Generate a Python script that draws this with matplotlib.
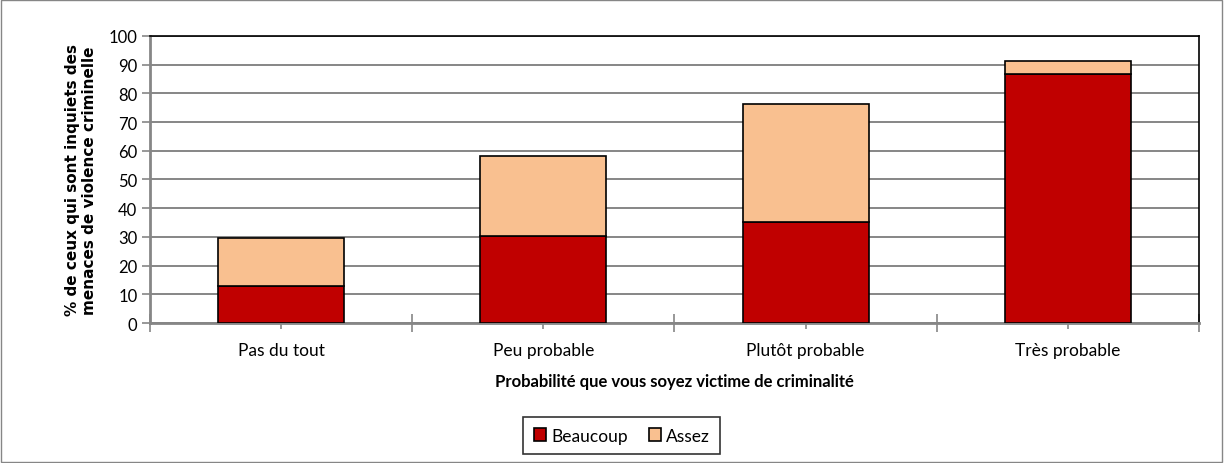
import matplotlib
matplotlib.use("Agg")
import matplotlib.pyplot as plt
from matplotlib.patches import Rectangle
import numpy as np

# data
categories = ["Pas du tout", "Peu probable", "Plutôt probable", "Très probable"]
beaucoup = [13.0, 30.4, 35.3, 86.9]
assez = [16.5, 27.9, 40.9, 4.3]
series_names = ["Beaucoup", "Assez"]
colors = ["#C00000", "#F9C090"]

plt.rcParams['font.family'] = ['Lato', 'DejaVu Sans']

fig = plt.figure(figsize=(12.24, 4.64), dpi=100)
ax = fig.add_axes([0.1225, 0.3017, 0.8571, 0.6186])

x = np.arange(len(categories))
b1 = ax.bar(x, beaucoup, width=0.48, color=colors[0], edgecolor="black", linewidth=1.2,
            label=series_names[0], zorder=3)
b2 = ax.bar(x, assez, width=0.48, bottom=beaucoup, color=colors[1], edgecolor="black",
            linewidth=1.2, label=series_names[1], zorder=3)

ax.set_xlim(-0.5, len(categories) - 0.5)
ax.set_ylim(0, 100)
ax.set_yticks(range(0, 101, 10))
ax.yaxis.grid(True, color="#868686", linewidth=1.4, zorder=0)
ax.set_axisbelow(True)

ax.set_xticks(x)
ax.set_xticklabels(categories, fontsize=12.5)
ax.set_xticks(np.arange(-0.5, len(categories)), minor=True)
ax.tick_params(axis="x", which="major", direction="inout", length=9, width=1.2,
               color="#868686", pad=9)
ax.tick_params(axis="x", which="minor", direction="inout", length=13, width=1.2,
               color="#868686")
ax.tick_params(axis="y", direction="out", length=6, width=1.2, color="#868686",
               labelsize=12, pad=3)

for side in ["top", "right"]:
    ax.spines[side].set_color("black")
    ax.spines[side].set_linewidth(1.2)
for side in ["left", "bottom"]:
    ax.spines[side].set_color("#868686")
    ax.spines[side].set_linewidth(2)

ax.set_xlabel("Probabilité que vous soyez victime de criminalité", fontsize=12,
              fontweight="bold", labelpad=11)
ax.set_ylabel("% de ceux qui sont inquiets des\nmenaces de violence criminelle", fontsize=11,
              fontweight="bold", family="DejaVu Sans", labelpad=8)

leg = fig.legend(handles=[b1, b2], labels=series_names, loc="center",
                 bbox_to_anchor=(0.508, 0.059), ncol=2, fontsize=12.5,
                 frameon=True, fancybox=False, edgecolor="black",
                 handlelength=0.7, handleheight=0.7, handletextpad=0.3,
                 columnspacing=1.2, borderpad=0.6)
leg.get_frame().set_linewidth(1.2)

fig.patches.append(Rectangle((0.001, 0.002), 0.997, 0.995, transform=fig.transFigure,
                             fill=False, edgecolor="#868686", linewidth=1))

fig.savefig("out.png", dpi=100)
